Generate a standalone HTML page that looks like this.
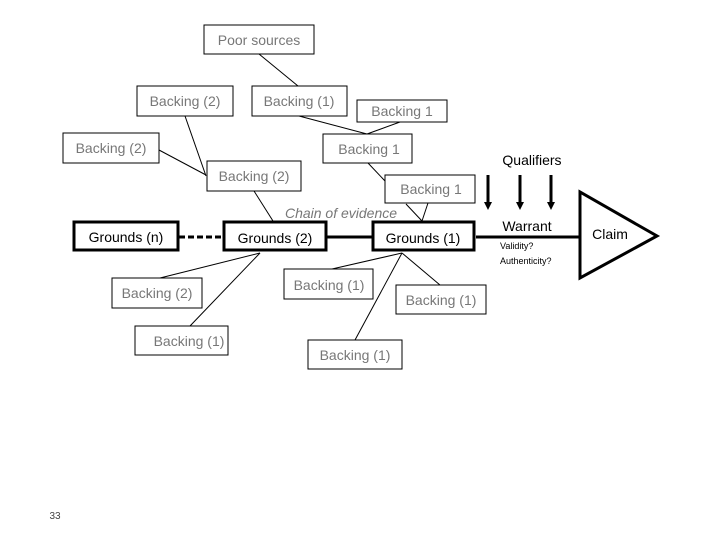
<!DOCTYPE html>
<html><head><style>
body{margin:0;width:720px;height:540px;background:#fff;overflow:hidden}
svg text{font-family:"Liberation Sans",sans-serif}
</style></head><body>
<svg width="720" height="540" viewBox="0 0 720 540" xmlns="http://www.w3.org/2000/svg">
<defs><marker id="ar" markerWidth="8" markerHeight="8" refX="4" refY="4" orient="auto" markerUnits="userSpaceOnUse" viewBox="0 0 8 8"><path d="M0,0 L8,4 L0,8 z" fill="#000"/></marker></defs>
<g stroke="#000" stroke-width="1" fill="none">
<line x1="259" y1="54" x2="298" y2="86"/>
<line x1="185" y1="116" x2="206" y2="176"/>
<line x1="159" y1="150" x2="206" y2="175"/>
<line x1="299" y1="116" x2="367" y2="134"/>
<line x1="400" y1="122" x2="367" y2="134"/>
<line x1="368" y1="163" x2="385" y2="181"/>
<line x1="254" y1="191" x2="273" y2="221"/>
<line x1="428" y1="203" x2="422" y2="221"/>
<line x1="406" y1="204" x2="422" y2="221"/>
<line x1="160" y1="278" x2="260" y2="253"/>
<line x1="190" y1="326" x2="260" y2="253"/>
<line x1="332" y1="269" x2="402" y2="253"/>
<line x1="440" y1="285" x2="402" y2="253"/>
<line x1="355" y1="340" x2="402" y2="253"/>
<rect x="204" y="25" width="110" height="29"/>
<rect x="137" y="86" width="96" height="30"/>
<rect x="252" y="86" width="95" height="30"/>
<rect x="357" y="100" width="90" height="22"/>
<rect x="63" y="133" width="96" height="30"/>
<rect x="323" y="134" width="89" height="29"/>
<rect x="207" y="161" width="94" height="30"/>
<rect x="385" y="175" width="90" height="28"/>
<rect x="112" y="278" width="90" height="30"/>
<rect x="135" y="326" width="93" height="29"/>
<rect x="284" y="269" width="89" height="30"/>
<rect x="396" y="285" width="90" height="29"/>
<rect x="308" y="340" width="94" height="29"/>
</g>
<g stroke="#000" stroke-width="3" fill="none">
<rect x="74" y="222" width="104" height="28"/>
<rect x="224" y="222" width="102" height="28"/>
<rect x="373" y="222" width="101" height="28"/>
<line x1="179" y1="237" x2="223" y2="237" stroke-dasharray="6,3"/>
<line x1="327" y1="237" x2="372" y2="237"/>
<line x1="476" y1="237" x2="580" y2="237"/>
<polygon points="580,192 580,278 657,236"/>
<line x1="488" y1="175" x2="488" y2="206" marker-end="url(#ar)"/>
<line x1="520" y1="175" x2="520" y2="206" marker-end="url(#ar)"/>
<line x1="551" y1="175" x2="551" y2="206" marker-end="url(#ar)"/>
</g>
<g fill="#777" font-size="14" text-anchor="middle">
<text x="259" y="45">Poor sources</text>
<text x="185" y="106">Backing (2)</text>
<text x="299" y="106">Backing (1)</text>
<text x="402" y="116">Backing 1</text>
<text x="111" y="153">Backing (2)</text>
<text x="369" y="154">Backing 1</text>
<text x="254" y="181">Backing (2)</text>
<text x="431" y="194">Backing 1</text>
<text x="157" y="298">Backing (2)</text>
<text x="189" y="346">Backing (1)</text>
<text x="329" y="290">Backing (1)</text>
<text x="441" y="305">Backing (1)</text>
<text x="355" y="360">Backing (1)</text>
<text x="341" y="218" font-style="italic">Chain of evidence</text>
</g>
<g fill="#000" font-size="14" text-anchor="middle">
<text x="126" y="242">Grounds (n)</text>
<text x="275" y="243">Grounds (2)</text>
<text x="423" y="243">Grounds (1)</text>
<text x="532" y="165">Qualifiers</text>
<text x="527" y="231">Warrant</text>
<text x="610" y="239">Claim</text>
</g>
<text x="500" y="249" font-size="9">Validity?</text>
<text x="500" y="264" font-size="9">Authenticity?</text>
<text x="55" y="519" font-size="10" fill="#444" text-anchor="middle">33</text>
</svg>
</body></html>
